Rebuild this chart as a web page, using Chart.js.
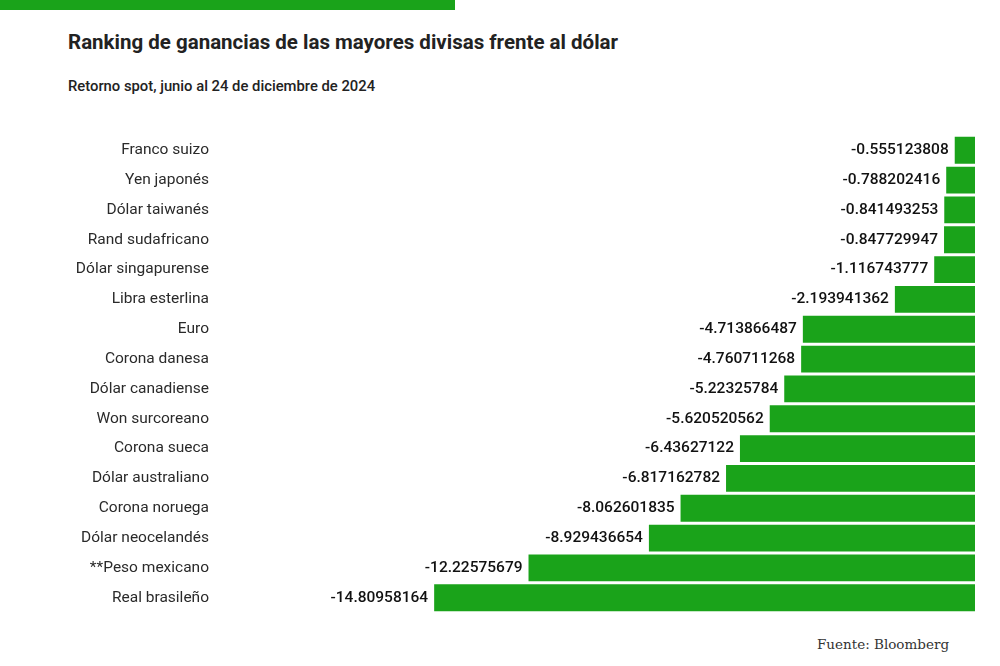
<!DOCTYPE html>
<html>
<head>
<meta charset="utf-8">
<script src="https://cdn.jsdelivr.net/npm/chart.js@4.4.1/dist/chart.umd.min.js"></script>
<style>
  body { margin: 0; width: 1000px; height: 666px; background: #fff; position: relative; overflow: hidden; font-family: Roboto, sans-serif; }
  #topbar { position: absolute; left: 0; top: 0; width: 455px; height: 10px; background: #1aa31a; }
  #title { position: absolute; left: 68px; top: 30px; font-size: 20.5px; font-weight: bold; color: #222; }
  #subtitle { position: absolute; left: 68px; top: 77px; font-size: 14.8px; font-weight: 500; color: #222; }
  #source { position: absolute; left: 817px; top: 636px; font-family: "DejaVu Serif", serif; font-size: 13.5px; color: #333; }
  #wrap { position: absolute; left: 0; top: 113px; width: 975px; height: 522px; }
</style>
</head>
<body>
<div id="topbar"></div>
<div id="title">Ranking de ganancias de las mayores divisas frente al dólar</div>
<div id="subtitle">Retorno spot, junio al 24 de diciembre de 2024</div>
<div id="wrap"><canvas id="chart"></canvas></div>
<div id="source">Fuente: Bloomberg</div>
<script>
// Currencies and their spot return (%)
const currencies = [
    'Franco suizo', 'Yen japonés', 'Dólar taiwanés', 'Rand sudafricano',
    'Dólar singapurense', 'Libra esterlina', 'Euro', 'Corona danesa',
    'Dólar canadiense', 'Won surcoreano', 'Corona sueca', 'Dólar australiano',
    'Corona noruega', 'Dólar neocelandés', '**Peso mexicano', 'Real brasileño'
];
const returns = [
    -0.555123808, -0.788202416, -0.841493253, -0.847729947,
    -1.116743777, -2.193941362, -4.713866487, -4.760711268,
    -5.22325784, -5.620520562, -6.43627122, -6.817162782,
    -8.062601835, -8.929436654, -12.22575679, -14.80958164
];

// Draws the value next to the left end of each bar
const valueLabels = {
    id: 'valueLabels',
    afterDatasetsDraw(chart) {
        const ctx = chart.ctx;
        const meta = chart.getDatasetMeta(0);
        ctx.save();
        ctx.font = '500 15.5px Roboto, sans-serif';
        ctx.fillStyle = '#111';
        ctx.textAlign = 'right';
        ctx.textBaseline = 'middle';
        meta.data.forEach((bar, i) => {
            ctx.fillText(String(returns[i]), bar.x - 6, bar.y);
        });
        ctx.restore();
    }
};

new Chart(document.getElementById('chart').getContext('2d'), {
    type: 'bar',
    data: {
        labels: currencies,
        datasets: [{
            data: returns,
            backgroundColor: '#1aa31a',
            categoryPercentage: 1,
            barPercentage: 0.9
        }]
    },
    options: {
        indexAxis: 'y',
        responsive: true,
        maintainAspectRatio: false,
        animation: false,
        layout: { padding: 0 },
        plugins: { legend: { display: false }, tooltip: { enabled: false } },
        scales: {
            x: { min: -20.4, max: 0, display: false },
            y: {
                grid: { display: false },
                border: { display: false },
                afterFit: (scale) => { scale.width = 230; },
                ticks: { color: '#2a2a2a', padding: 13, font: { family: 'Roboto, sans-serif', size: 15.5 } }
            }
        }
    },
    plugins: [valueLabels]
});
</script>
</body>
</html>
